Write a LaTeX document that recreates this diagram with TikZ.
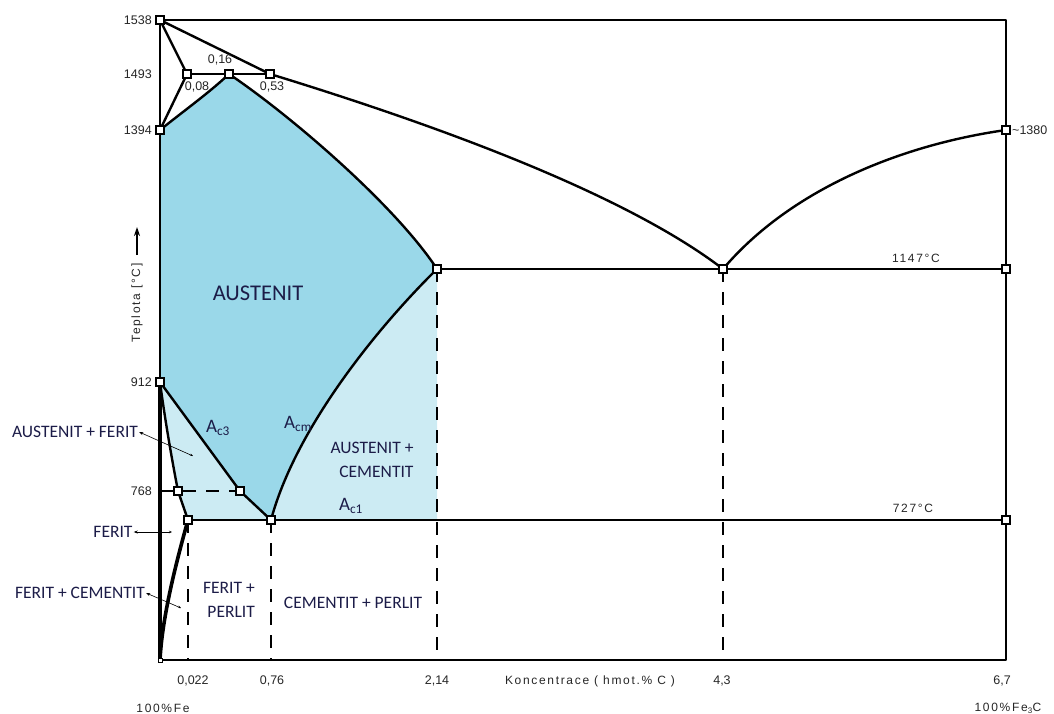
\documentclass[tikz,border=0pt]{standalone}
\usepackage{fontspec}
\setmainfont{Liberation Sans}
\newfontfamily\calib{Carlito}
\newfontfamily\widesans[LetterSpace=14]{Liberation Sans}
\usetikzlibrary{arrows.meta}
\definecolor{austc}{RGB}{154,216,233}
\definecolor{lightc}{RGB}{204,235,243}
\definecolor{navy}{RGB}{28,28,72}
\begin{document}
\begin{tikzpicture}[x=1pt,y=-1pt,
 ln/.style={line width=2.4pt, line join=round},
 dsh/.style={line width=1.6pt, dash pattern=on 13pt off 10pt},
 mk/.style={draw, fill=white, line width=1.6pt, minimum size=8pt, inner sep=0pt, rectangle},
 num/.style={font=\fontsize{12.5}{14}\selectfont, text=black!85, inner sep=1pt},
 wnum/.style={font=\widesans\fontsize{12}{14}\selectfont, text=black!85, inner sep=1pt},
 lab/.style={font=\calib\fontsize{17.5}{24}\selectfont, text=navy, inner sep=1pt},
 alab/.style={font=\calib\fontsize{19}{22}\selectfont, text=navy, inner sep=1pt},
 ptr/.style={line width=0.6pt, {Stealth[length=4pt,width=3pt]}-{Stealth[length=3pt,width=2.5pt]}}
]
\useasboundingbox (0,0) rectangle (1054,713);
% key points
\coordinate (A) at (160,20);
\coordinate (TR) at (1006,20);
\coordinate (H) at (187,74);
\coordinate (J) at (229,74);
\coordinate (B) at (270,74);
\coordinate (N) at (160,130);
\coordinate (R) at (1006,130);
\coordinate (E) at (437,269);
\coordinate (C) at (723,269);
\coordinate (F) at (1006,269);
\coordinate (G) at (160,382);
\coordinate (M) at (178,491);
\coordinate (Q) at (240,491);
\coordinate (P) at (188,520);
\coordinate (S) at (271,520);
\coordinate (K) at (1006,520);
\coordinate (O) at (160,660);
\coordinate (BR) at (1006,660);
\coordinate (EB) at (437,520);
% fills
\fill[austc] (N) .. controls (185,110) and (210,92) .. (J) .. controls (290,115) and (395,205) .. (E)
  .. controls (375,330) and (295,430) .. (S) -- (Q) -- (G) -- cycle;
\fill[lightc] (E) -- (EB) -- (S) .. controls (295,430) and (375,330) .. (E) -- cycle;
\fill[lightc] (G) -- (Q) -- (S) -- (P) -- (M) .. controls (172,460) and (165,420) .. (G) -- cycle;
% dashed lines
\draw[dsh] (G |- M) -- (Q);
\draw[dsh] (P) -- (P |- O);
\draw[dsh] (S) -- (S |- O);
\draw[dsh] (E) -- (E |- O);
\draw[dsh] (C) -- (C |- O);
% frame
\draw[ln] (A) -- (TR) -- (BR) -- (O) -- cycle;
\draw[line width=4pt] (G) -- (O);
% phase lines
\draw[ln] (A) -- (H) -- (N);
\draw[ln] (A) -- (B);
\draw[ln] (H) -- (B);
\draw[ln] (N) .. controls (185,110) and (210,92) .. (J);
\draw[ln] (J) .. controls (290,115) and (395,205) .. (E);
\draw[ln] (B) .. controls (420,120) and (620,190) .. (C);
\draw[ln] (C) .. controls (790,190) and (900,145) .. (R);
\draw[ln] (E) -- (F);
\draw[ln] (P) -- (K);
\draw[ln] (G) -- (Q) -- (S);
\draw[ln] (G) .. controls (165,420) and (172,460) .. (M) -- (P);
\draw[ln] (S) .. controls (295,430) and (375,330) .. (E);
\draw[line width=3.6pt] (P) .. controls (174,570) and (162,620) .. (O);
% markers
\foreach \p in {A,H,J,B,N,R,E,C,F,G,M,Q,P,S,K}{\node[mk] (m\p) at (\p) {};}
\node[draw, fill=white, line width=0.5pt, minimum size=4pt, inner sep=0pt] (mO) at (O) {};
% temperature labels
\node[num, anchor=east] (t1538) at (153,20) {1538};
\node[num, anchor=east] (t1493) at (153,74) {1493};
\node[num, anchor=east] (t1394) at (153,130) {1394};
\node[num, anchor=east] (t912) at (153,382) {912};
\node[num, anchor=east] (t768) at (153,491) {768};
\node[num] (c016) at (220,60) {0,16};
\node[num] (c008) at (197,87) {0,08};
\node[num] (c053) at (272,87) {0,53};
\node[num, anchor=west] (t1380) at (1011,130) {\textasciitilde1380};
\node[wnum] (t1147) at (916,258) {1147°C};
\node[wnum] (t727) at (913,508) {727°C};
% axis labels
\node[num] (x0022) at (193,681) {0,022};
\node[num] (x076) at (272,681) {0,76};
\node[num] (x214) at (437,681) {2,14};
\node[wnum] (xlab) at (590,681) {Koncentrace ( hmot.\% C )};
\node[num] (x43) at (722,681) {4,3};
\node[num] (x67) at (1002,681) {6,7};
\node[wnum] (fe) at (163,708) {100\%Fe};
\node[wnum] (fe3c) at (1008,708) {100\%Fe\textsubscript{3}C};
\node[wnum, rotate=90] (tep) at (137,303) {Teplota [°C]};
\coordinate (tarr0) at (137,255);
\coordinate (tarr1) at (137,227);
\draw[line width=1.5pt, -{Stealth[length=9pt,width=6pt]}] (tarr0) -- (tarr1);
% region labels
\node[font=\calib\fontsize{22.5}{24}\selectfont, text=navy] (aus) at (258,293) {AUSTENIT};
\node[alab] (ac3) at (218,428) {A\textsubscript{c3}};
\node[alab] (acm) at (298,424) {A\textsubscript{cm}};
\node[alab] (ac1) at (351,506) {A\textsubscript{c1}};
\node[lab, align=right] (auscem) at (372,460) {AUSTENIT +\\CEMENTIT};
\node[lab, align=right] (ferper) at (229,600) {FERIT +\\PERLIT};
\node[lab] (cemper) at (353,603) {CEMENTIT + PERLIT};
\node[lab] (ausfer) at (75,432) {AUSTENIT + FERIT};
\node[lab] (fer) at (113,532) {FERIT};
\node[lab] (fercem) at (80,593) {FERIT + CEMENTIT};
\coordinate (pa) at (193,456);
\coordinate (pb) at (172,532);
\coordinate (pc) at (181,608);
\draw[ptr] (ausfer.east) -- (pa);
\draw[ptr] (fer.east) -- (pb);
\draw[ptr] (fercem.east) -- (pc);
\end{tikzpicture}
\end{document}
